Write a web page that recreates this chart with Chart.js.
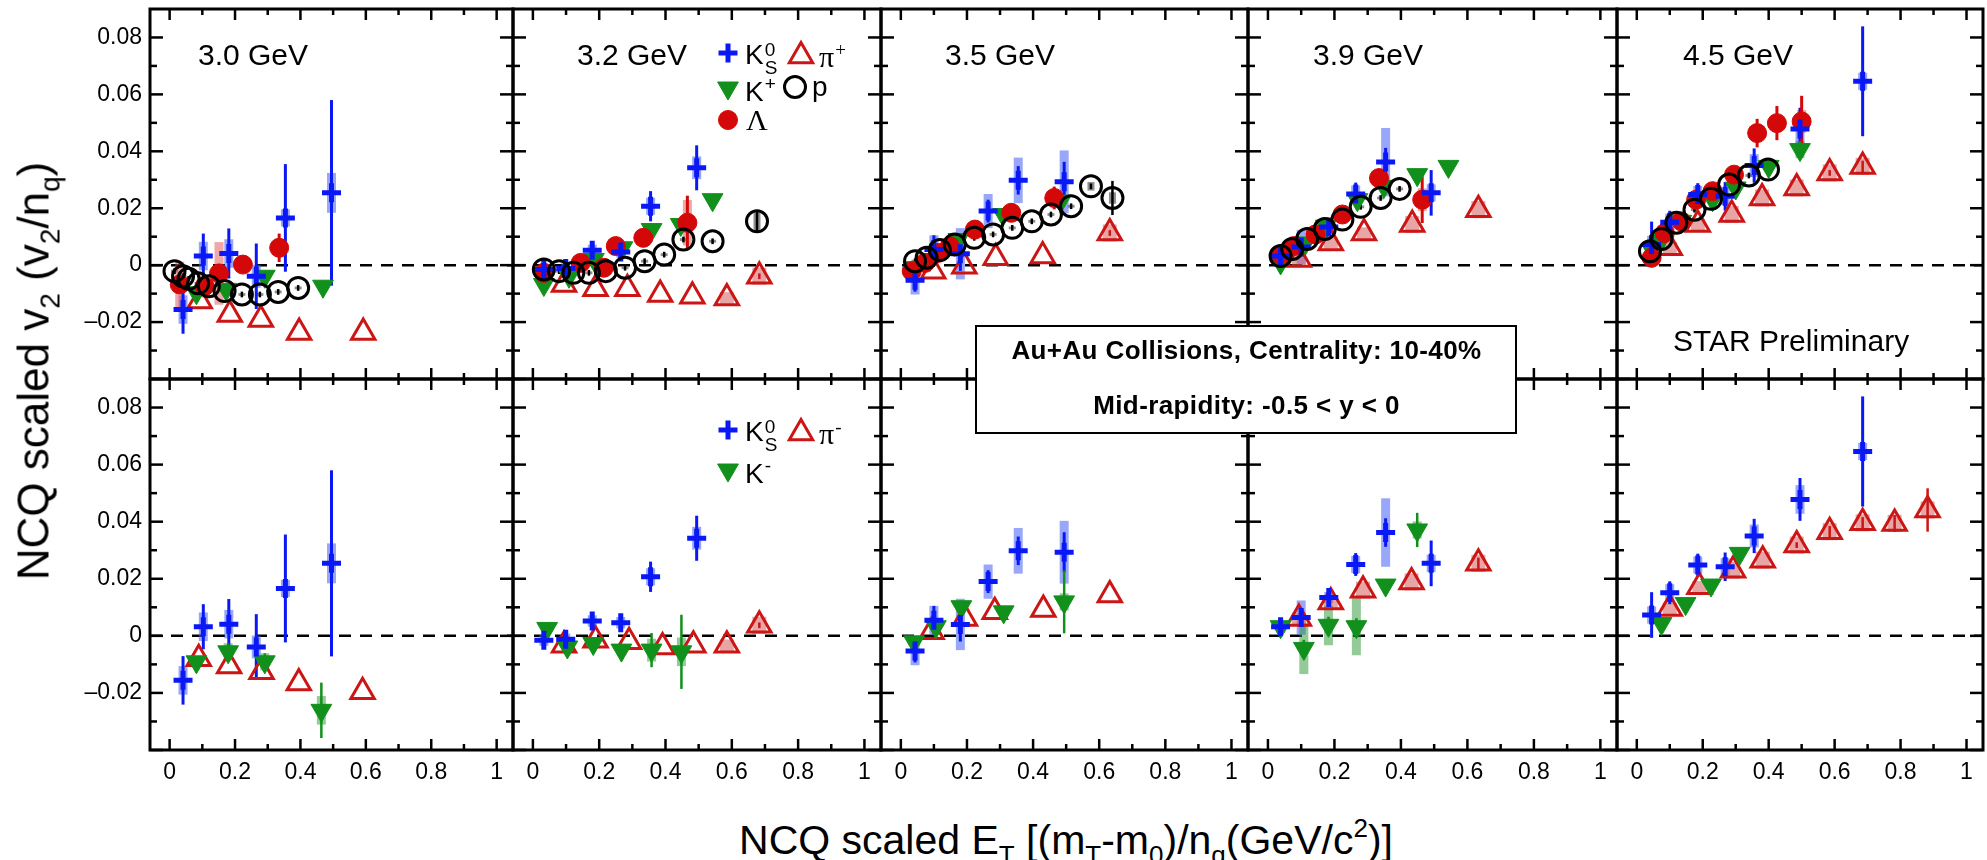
<!DOCTYPE html>
<html>
<head>
<meta charset="utf-8">
<title>NCQ scaled v2</title>
<script src="https://cdn.jsdelivr.net/npm/chart.js@4.4.1/dist/chart.umd.min.js"></script>
<style>
  body { margin: 0; width: 1987px; height: 860px; background: #fff; position: relative; overflow: hidden;
         font-family: "Liberation Sans", Arial, Helvetica, sans-serif; color: #000; }
  canvas { position: absolute; }
  .t { position: absolute; white-space: nowrap; line-height: 1; z-index: 5; }
  .energy { font-size: 30px; }
  .leg { font-size: 28px; }
  .greek { font-family: "Liberation Serif", "Times New Roman", serif; font-size: 30px; }
  .ss { display: inline-block; vertical-align: -10px; font-size: 19px; line-height: 18px; margin-left: 1px; }
  .ss span { display: block; }
  .sup { font-size: 19px; vertical-align: 11px; margin-left: 1px; }
  #box { position: absolute; left: 975px; top: 325px; width: 538px; height: 105px; border: 2.5px solid #000; background: #fff; z-index: 4; }
  .boxline { position: absolute; left: 975px; width: 543px; text-align: center; font-weight: bold; font-size: 26px;
             letter-spacing: 0.4px; line-height: 1; z-index: 5; white-space: nowrap; }
  .axt { position: absolute; white-space: nowrap; font-size: 41px; line-height: 1; z-index: 5; }
  .axt .lo { font-size: 26px; vertical-align: -10px; }
  .axt .hi { font-size: 26px; vertical-align: 17px; }
  #ytitle { font-size: 44px; }
  #ytitle .lo { font-size: 28px; vertical-align: -11px; }
</style>
</head>
<body>

<div class="t energy" style="left:198px;top:40px">3.0 GeV</div>
<div class="t energy" style="left:577px;top:40px">3.2 GeV</div>
<div class="t energy" style="left:945px;top:40px">3.5 GeV</div>
<div class="t energy" style="left:1313px;top:40px">3.9 GeV</div>
<div class="t energy" style="left:1683px;top:40px">4.5 GeV</div>
<div class="t energy" style="left:1673px;top:326px">STAR Preliminary</div>

<div class="t leg" style="left:745px;top:41px">K<span class="ss"><span>0</span><span>S</span></span></div>
<div class="t greek" style="left:819px;top:40px">π<span class="sup">+</span></div>
<div class="t leg" style="left:745px;top:74px">K<span class="sup">+</span></div>
<div class="t leg" style="left:812px;top:73px">p</div>
<div class="t greek" style="left:746px;top:105px">Λ</div>

<div class="t leg" style="left:745px;top:418px">K<span class="ss"><span>0</span><span>S</span></span></div>
<div class="t greek" style="left:819px;top:417px">π<span class="sup">-</span></div>
<div class="t leg" style="left:745px;top:456px">K<span class="sup">-</span></div>

<div id="box"></div>
<div class="boxline" style="top:337px">Au+Au Collisions, Centrality: 10-40%</div>
<div class="boxline" style="top:392px">Mid-rapidity: -0.5 &lt; y &lt; 0</div>

<div class="axt" id="ytitle" style="left:38px;top:371px;transform:translate(-50%,-50%) rotate(-90deg)">NCQ scaled v<span class="lo">2</span> (v<span class="lo">2</span>/n<span class="lo">q</span>)</div>
<div class="axt" style="left:1066px;top:815px;transform:translateX(-50%)">NCQ scaled E<span class="lo">T</span> [(m<span class="lo">T</span>-m<span class="lo">0</span>)/n<span class="lo">q</span>(GeV/c<span class="hi">2</span>)]</div>

<script>
// axis ranges and ticks
const X_MIN = -0.06, X_MAX = 1.05;
const Y_MIN = -0.04, Y_MAX = 0.09;
const X_TICKS = [0, 0.2, 0.4, 0.6, 0.8, 1];
const X_MINOR = [0.1, 0.3, 0.5, 0.7, 0.9];
const Y_TICKS = [-0.02, 0, 0.02, 0.04, 0.06, 0.08];
const Y_MAJOR = [-0.04, -0.02, 0, 0.02, 0.04, 0.06, 0.08];
const Y_MINOR = [-0.03, -0.01, 0.01, 0.03, 0.05, 0.07];

const ENERGIES = ['3.0 GeV', '3.2 GeV', '3.5 GeV', '3.9 GeV', '4.5 GeV'];

// points: [x, v2/nq, stat, sys]  (missing errors use the species default)
const K0S_30 = [[0.041,-0.0156,0.0085,0.005],[0.103,0.0032,0.0079,0.005],[0.181,0.0041,0.0088,0.005],[0.265,-0.0039,0.0115,0.004],[0.354,0.0166,0.0189,0.003],[0.495,0.0254,0.0326,0.007]];
const LAM_30 = [[0.031,-0.0068,0.003,0.008],[0.107,-0.0074,0.002,0.004],[0.151,-0.0029,0.003,0.011],[0.224,0.0002],[0.335,0.0061,0.005,0.003]];
const KP_30  = [[0.082,-0.0097],[0.173,-0.0085],[0.291,-0.0039],[0.469,-0.0074]];
const PIP_30 = [[0.092,-0.0126],[0.184,-0.0173],[0.279,-0.0191],[0.396,-0.0237],[0.592,-0.0237]];
const P_30   = [[0.015,-0.0021],[0.041,-0.0039],[0.058,-0.0048],[0.087,-0.0064],[0.12,-0.0074],[0.168,-0.0091],[0.221,-0.0103],[0.276,-0.0103],[0.332,-0.0094],[0.393,-0.008]];
const KM_30  = [[0.082,-0.0091],[0.179,-0.0056,0.003,0.003],[0.291,-0.0091,0.003,0.003],[0.464,-0.0261,0.0097,0.005]];
const PIM_30 = [[0.089,-0.008],[0.182,-0.0106],[0.281,-0.0126],[0.395,-0.0165],[0.59,-0.0196]];

const K0S_32 = [[0.033,-0.0015],[0.099,-0.0012],[0.179,0.0052],[0.265,0.0046],[0.355,0.0207,0.0053,0.003],[0.494,0.0342,0.0079,0.004]];
const LAM_32 = [[0.033,-0.0027],[0.144,0.0008],[0.214,-0.0009],[0.25,0.0067],[0.333,0.0096],[0.466,0.0149,0.0095,0.008]];
const KP_32  = [[0.033,-0.0068],[0.109,-0.0039],[0.184,0.002],[0.27,0.0061],[0.358,0.0125],[0.446,0.0143],[0.542,0.023]];
const PIP_32 = [[0.094,-0.0068],[0.189,-0.0083],[0.285,-0.0083],[0.384,-0.0103],[0.481,-0.0109],[0.585,-0.0115,0,0.002],[0.683,-0.0039,0.001,0.003]];
const P_32   = [[0.033,-0.0015],[0.079,-0.0021],[0.122,-0.0027],[0.169,-0.0027],[0.22,-0.0021],[0.278,-0.0009],[0.337,0.0014],[0.396,0.0037],[0.454,0.009],[0.542,0.0084],[0.676,0.0154,0.004,0.003]];
const KM_32  = [[0.043,0.0026],[0.104,-0.0039],[0.182,-0.0027],[0.267,-0.005],[0.358,-0.005,0.006,0.004],[0.448,-0.0056,0.013,0.005]];
const PIM_32 = [[0.094,-0.0033],[0.189,-0.0015],[0.29,-0.0021],[0.391,-0.0039],[0.484,-0.0033],[0.585,-0.0033,0,0.002],[0.683,0.0037,0.001,0.003]];

const K0S_35 = [[0.043,-0.0053,0.004,0.005],[0.1,0.0055,0.005,0.005],[0.18,0.004,0.006,0.009],[0.264,0.019,0.004,0.006],[0.355,0.0298,0.005,0.008],[0.494,0.0293,0.007,0.011]];
const LAM_35 = [[0.033,-0.0021],[0.073,0.0008],[0.113,0.0043],[0.148,0.0067],[0.224,0.0125],[0.334,0.0184],[0.464,0.0236,0.004,0.003]];
const KP_35  = [[0.038,-0.0009],[0.088,0.002],[0.174,0.009],[0.309,0.0178],[0.484,0.0225]];
const PIP_35 = [[0.098,-0.0021],[0.192,-0.0004],[0.287,0.0026],[0.429,0.0032],[0.632,0.0113,0.001,0.003]];
const P_35   = [[0.043,0.0014],[0.078,0.0026],[0.118,0.0053],[0.163,0.0073],[0.222,0.0096],[0.279,0.0108],[0.337,0.0131],[0.396,0.0154],[0.454,0.0178],[0.515,0.0207],[0.575,0.0277,0.001,0.0015],[0.64,0.0236,0.006,0.002]];
const KM_35  = [[0.04,-0.0021],[0.106,0.0032],[0.183,0.0102],[0.311,0.0084],[0.494,0.0119,0.011,0.003]];
const PIM_35 = [[0.093,0.0014],[0.194,0.0061],[0.284,0.0084],[0.431,0.0092],[0.632,0.0143]];

const K0S_39 = [[0.038,0.0032],[0.1,0.0064,0.003,0.006],[0.183,0.0134],[0.264,0.025,0.004,0.003],[0.354,0.0362,0.005,0.012],[0.491,0.0254,0.008,0.003]];
const LAM_39 = [[0.038,0.0037],[0.078,0.0067],[0.143,0.0108],[0.224,0.0178],[0.334,0.0306],[0.464,0.023,0.0082,0.004]];
const KP_39  = [[0.038,0.0008],[0.113,0.0078],[0.174,0.0137],[0.269,0.023],[0.349,0.0277],[0.449,0.0318],[0.543,0.0347]];
const PIP_39 = [[0.093,0.002,0,0.002],[0.189,0.0078,0,0.002],[0.289,0.0113,0,0.002],[0.434,0.0143,0,0.003],[0.633,0.0195,0,0.003]];
const P_39   = [[0.038,0.0032],[0.073,0.0057],[0.118,0.0092],[0.171,0.0127],[0.224,0.016],[0.279,0.0205],[0.339,0.0236],[0.396,0.0268]];
const KM_39  = [[0.038,0.0032],[0.108,-0.0044,0.003,0.009],[0.182,0.0037,0.003,0.007],[0.266,0.0032,0.003,0.01],[0.354,0.0178],[0.449,0.0371,0.006,0.003]];
const PIM_39 = [[0.093,0.0061,0,0.002],[0.189,0.0119,0,0.002],[0.286,0.016,0,0.003],[0.432,0.0189,0,0.003],[0.633,0.0254,0.002,0.003]];

const K0S_45 = [[0.045,0.0073,0.008,0.003],[0.1,0.0151,0.004,0.003],[0.185,0.0248,0.004,0.003],[0.268,0.0242,0.005,0.003],[0.356,0.035,0.006,0.004],[0.495,0.0478,0.0075,0.005],[0.685,0.0646,0.0193,0.003]];
const LAM_45 = [[0.045,0.0026],[0.085,0.0113],[0.135,0.0154],[0.18,0.023],[0.23,0.026],[0.295,0.0318],[0.365,0.0464,0.005,0.003],[0.425,0.0499,0.006,0.003],[0.5,0.0505,0.009,0.004]];
const KP_45  = [[0.045,0.0055],[0.075,0.009],[0.135,0.0154],[0.23,0.023],[0.3,0.0271],[0.4,0.0347],[0.495,0.0406,0.003,0.003]];
const PIP_45 = [[0.1,0.0061,0,0.002],[0.185,0.0143,0,0.002],[0.288,0.0178,0,0.003],[0.38,0.0236,0,0.003],[0.485,0.0271,0,0.003],[0.585,0.0324,0.001,0.003],[0.685,0.0347,0.002,0.003]];
const P_45   = [[0.04,0.0049],[0.075,0.0092],[0.12,0.0149],[0.175,0.0195],[0.225,0.0233],[0.28,0.0283],[0.34,0.0315],[0.398,0.0336]];
const KM_45  = [[0.075,0.0043],[0.148,0.0113],[0.225,0.0178],[0.312,0.0289]];
const PIM_45 = [[0.1,0.0096,0,0.002],[0.19,0.0172,0,0.002],[0.292,0.023,0,0.003],[0.382,0.0265,0,0.003],[0.485,0.0318,0.001,0.003],[0.585,0.0365,0.002,0.003],[0.685,0.0396,0.002,0.003],[0.782,0.0394,0.003,0.003],[0.882,0.0441,0.0076,0.003]];

// layout of the 5 x 2 frames (page pixels)
const PX = [150, 513, 881, 1248, 1617, 1983];
const PY = [9, 379, 750];
const M = 4;
const BOTTOM = 800;

const BLUE = '#0a18f5', GREEN = '#12901c', RED = '#d40808', PIRED = '#cc1515';

const STYLES = {
  k0s: { pointStyle: 'cross', pointRadius: 9.5, pointBorderWidth: 5, color: BLUE, fill: BLUE,
         stat: 0.002, sys: 0.002, sysColor: 'rgba(70,95,245,0.55)', sysWidth: 9, statWidth: 3 },
  k:   { pointStyle: 'triangle', pointRadius: 12, pointRotation: 180, pointBorderWidth: 1, color: GREEN, fill: GREEN,
         stat: 0.002, sys: 0.0015, sysColor: 'rgba(40,150,50,0.5)', sysWidth: 9, statWidth: 2.5 },
  lam: { pointStyle: 'circle', pointRadius: 9.5, pointBorderWidth: 1, color: RED, fill: RED,
         stat: 0.002, sys: 0.0015, sysColor: 'rgba(225,80,80,0.5)', sysWidth: 9, statWidth: 3 },
  pi:  { pointStyle: 'triangle', pointRadius: 13.5, pointBorderWidth: 3, color: PIRED, fill: 'rgba(255,255,255,0)',
         stat: 0, sys: 0, sysColor: 'rgba(215,105,105,0.6)', sysWidth: 14, statWidth: 2.5 },
  p:   { pointStyle: 'circle', pointRadius: 10.5, pointBorderWidth: 3, color: '#000', fill: 'rgba(255,255,255,0)',
         stat: 0.001, sys: 0.0005, sysColor: 'rgba(115,115,115,0.8)', sysWidth: 7, statWidth: 2.5 }
};

const PANELS = [
  { row: 0, col: 0, sets: [[P_30, 'p'], [K0S_30, 'k0s'], [LAM_30, 'lam'], [KP_30, 'k'], [PIP_30, 'pi']] },
  { row: 0, col: 1, sets: [[P_32, 'p'], [K0S_32, 'k0s'], [LAM_32, 'lam'], [KP_32, 'k'], [PIP_32, 'pi']] },
  { row: 0, col: 2, sets: [[P_35, 'p'], [K0S_35, 'k0s'], [LAM_35, 'lam'], [KP_35, 'k'], [PIP_35, 'pi']] },
  { row: 0, col: 3, sets: [[P_39, 'p'], [K0S_39, 'k0s'], [LAM_39, 'lam'], [KP_39, 'k'], [PIP_39, 'pi']] },
  { row: 0, col: 4, sets: [[P_45, 'p'], [K0S_45, 'k0s'], [LAM_45, 'lam'], [KP_45, 'k'], [PIP_45, 'pi']] },
  { row: 1, col: 0, sets: [[K0S_30, 'k0s'], [KM_30, 'k'], [PIM_30, 'pi']] },
  { row: 1, col: 1, sets: [[K0S_32, 'k0s'], [KM_32, 'k'], [PIM_32, 'pi']] },
  { row: 1, col: 2, sets: [[K0S_35, 'k0s'], [KM_35, 'k'], [PIM_35, 'pi']] },
  { row: 1, col: 3, sets: [[K0S_39, 'k0s'], [KM_39, 'k'], [PIM_39, 'pi']] },
  { row: 1, col: 4, sets: [[K0S_45, 'k0s'], [KM_45, 'k'], [PIM_45, 'pi']] }
];

// legend symbols (page coords) for the 3.2 GeV panels
const LEGEND_TOP = [['k0s', 728, 53], ['pi', 801, 56], ['k', 728, 88], ['p', 795, 87], ['lam', 728, 120]];
const LEGEND_BOT = [['k0s', 728, 430], ['pi', 801, 433], ['k', 728, 470]];

function series(arr, kind) {
  const s = STYLES[kind];
  return {
    data: arr.map(p => ({ x: p[0], y: p[1] })),
    stat: arr.map(p => p[2] !== undefined ? p[2] : s.stat),
    sys: arr.map(p => p[3] !== undefined ? p[3] : s.sys),
    sysColor: s.sysColor, sysWidth: s.sysWidth, statWidth: s.statWidth,
    showLine: false,
    pointStyle: s.pointStyle,
    pointRadius: s.pointRadius,
    pointRotation: s.pointRotation || 0,
    pointBorderWidth: s.pointBorderWidth,
    borderColor: s.color,
    backgroundColor: s.fill,
    pointBorderColor: s.color,
    pointBackgroundColor: s.fill
  };
}

function line(ctx, x1, y1, x2, y2) {
  ctx.beginPath(); ctx.moveTo(x1, y1); ctx.lineTo(x2, y2); ctx.stroke();
}

function triPath(ctx, x, y, r, rot) {
  ctx.beginPath();
  for (let k = 0; k < 3; k++) {
    const a = rot + k * 2 * Math.PI / 3;
    const px = x + Math.sin(a) * r, py = y - Math.cos(a) * r;
    if (k === 0) ctx.moveTo(px, py); else ctx.lineTo(px, py);
  }
  ctx.closePath();
}

function drawMark(ctx, kind, x, y) {
  const s = STYLES[kind];
  const r = s.pointRadius;
  ctx.save();
  ctx.strokeStyle = s.color; ctx.fillStyle = s.fill; ctx.lineWidth = s.pointBorderWidth;
  if (kind === 'k0s') {
    line(ctx, x - r, y, x + r, y); line(ctx, x, y - r, x, y + r);
  } else if (kind === 'k' || kind === 'pi') {
    triPath(ctx, x, y, r, (s.pointRotation || 0) * Math.PI / 180);
    ctx.fill(); ctx.stroke();
  } else {
    ctx.beginPath(); ctx.arc(x, y, r, 0, 2 * Math.PI); ctx.fill(); ctx.stroke();
  }
  ctx.restore();
}

const framePlugin = {
  id: 'ncqFrame',
  beforeDatasetsDraw(chart) {
    const { ctx, chartArea: a, scales: { x, y } } = chart;
    ctx.save();
    // zero line
    ctx.strokeStyle = '#000'; ctx.lineWidth = 2.5; ctx.setLineDash([12, 9]);
    const y0 = y.getPixelForValue(0);
    line(ctx, a.left, y0, a.right, y0);
    ctx.setLineDash([]);
    // systematic boxes, then statistical bars
    chart.data.datasets.forEach(ds => {
      ds.data.forEach((d, j) => {
        const px = x.getPixelForValue(d.x);
        const s = ds.sys[j];
        if (s > 0) {
          const t = y.getPixelForValue(d.y + s), b = y.getPixelForValue(d.y - s);
          ctx.fillStyle = ds.sysColor;
          ctx.fillRect(px - ds.sysWidth / 2, t, ds.sysWidth, b - t);
        }
      });
    });
    chart.data.datasets.forEach(ds => {
      ctx.strokeStyle = ds.borderColor; ctx.lineWidth = ds.statWidth;
      ds.data.forEach((d, j) => {
        const e = ds.stat[j];
        const px = x.getPixelForValue(d.x);
        if (e > 0) line(ctx, px, y.getPixelForValue(d.y + e), px, y.getPixelForValue(d.y - e));
      });
    });
    ctx.restore();
  },
  afterDraw(chart) {
    const { ctx, chartArea: a, scales: { x, y } } = chart;
    ctx.save();
    ctx.strokeStyle = '#000';
    ctx.lineWidth = 3;
    ctx.strokeRect(a.left, a.top, a.right - a.left, a.bottom - a.top);
    ctx.lineWidth = 2.5;
    X_TICKS.forEach(v => { const p = x.getPixelForValue(v); line(ctx, p, a.bottom, p, a.bottom - 11); line(ctx, p, a.top, p, a.top + 11); });
    X_MINOR.forEach(v => { const p = x.getPixelForValue(v); line(ctx, p, a.bottom, p, a.bottom - 6); line(ctx, p, a.top, p, a.top + 6); });
    Y_MAJOR.forEach(v => { const p = y.getPixelForValue(v); line(ctx, a.left, p, a.left + 13, p); line(ctx, a.right, p, a.right - 13, p); });
    Y_MINOR.forEach(v => { const p = y.getPixelForValue(v); line(ctx, a.left, p, a.left + 7, p); line(ctx, a.right, p, a.right - 7, p); });
    ctx.restore();
  }
};

function legendPlugin(items, ox, oy) {
  return {
    id: 'ncqLegend',
    afterDraw(chart) {
      items.forEach(([kind, px, py]) => drawMark(chart.ctx, kind, px - ox, py - oy));
    }
  };
}

const FONT = { family: '"Liberation Sans", Arial, Helvetica, sans-serif', size: 23 };

function zeroPad(s) { s.paddingLeft = 0; s.paddingRight = 0; s.paddingTop = 0; s.paddingBottom = 0; }

PANELS.forEach(panel => {
  const { row, col } = panel;
  const left = col === 0 ? 0 : PX[col] - M;
  const right = PX[col + 1] + M;
  const top = PY[row] - M;
  const bottom = row === 1 ? BOTTOM : PY[row + 1] + M;

  const cv = document.createElement('canvas');
  cv.width = right - left; cv.height = bottom - top;
  cv.style.left = left + 'px'; cv.style.top = top + 'px';
  cv.style.width = (right - left) + 'px'; cv.style.height = (bottom - top) + 'px';
  document.body.appendChild(cv);

  const plugins = [framePlugin];
  if (col === 1) plugins.push(legendPlugin(row === 0 ? LEGEND_TOP : LEGEND_BOT, left, top));

  new Chart(cv.getContext('2d'), {
    type: 'scatter',
    data: { datasets: panel.sets.map(([arr, kind]) => series(arr, kind)) },
    options: {
      responsive: false,
      animation: false,
      devicePixelRatio: 1,
      events: [],
      layout: { autoPadding: false, padding: { left: col === 0 ? 0 : M, right: M, top: M, bottom: row === 1 ? 0 : M } },
      plugins: { legend: { display: false }, tooltip: { enabled: false } },
      scales: {
        x: {
          type: 'linear', min: X_MIN, max: X_MAX,
          display: row === 1,
          grid: { display: false, drawTicks: false },
          border: { display: false },
          ticks: { font: FONT, color: '#000', padding: 9, autoSkip: false, maxRotation: 0,
                   callback: v => (v === 0 || v === 1) ? String(v) : v.toFixed(1) },
          afterBuildTicks: s => { s.ticks = X_TICKS.map(v => ({ value: v })); },
          afterFit: s => { s.height = row === 1 ? BOTTOM - PY[2] : 0; zeroPad(s); }
        },
        y: {
          type: 'linear', min: Y_MIN, max: Y_MAX,
          display: col === 0,
          grid: { display: false, drawTicks: false },
          border: { display: false },
          ticks: { font: FONT, color: '#000', padding: 8, autoSkip: false,
                   callback: v => Math.abs(v) < 1e-9 ? '0' : (v < 0 ? '\u2013' : '') + Math.abs(v).toFixed(2) },
          afterBuildTicks: s => { s.ticks = Y_TICKS.map(v => ({ value: v })); },
          afterFit: s => { s.width = col === 0 ? PX[0] : 0; zeroPad(s); }
        }
      }
    },
    plugins
  });
});
</script>
</body>
</html>
